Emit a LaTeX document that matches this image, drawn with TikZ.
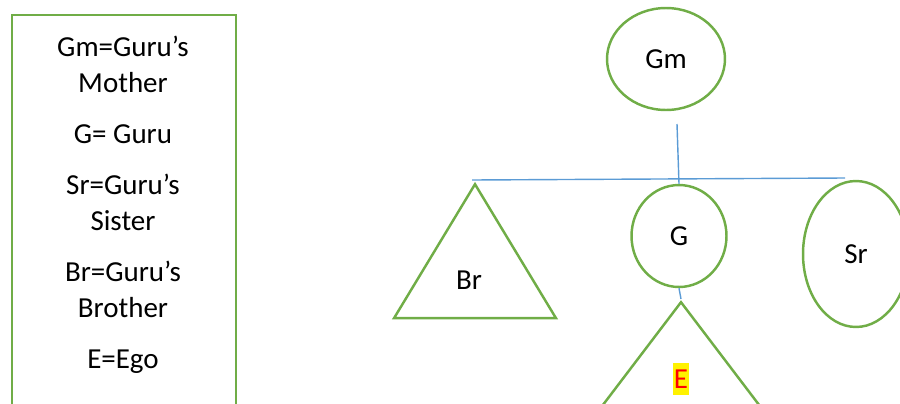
\documentclass[tikz,border=0pt]{standalone}
\usepackage{fontspec}
\setmainfont{Carlito}
\usetikzlibrary{shapes.geometric}

\definecolor{kingreen}{RGB}{112,173,71}
\definecolor{kinblue}{RGB}{91,155,213}

\begin{document}
\begin{tikzpicture}[x=0.02cm,y=-0.02cm,
  every node/.style={font=\fontsize{16.5}{20.5}\selectfont},
  kin/.style={draw=kingreen,line width=1.4pt},
  female/.style={kin,ellipse,inner sep=0pt},
  male/.style={kin,isosceles triangle,isosceles triangle stretches,
    shape border rotate=90,inner sep=0pt},
  tie/.style={draw=kinblue,line width=0.8pt}]

\useasboundingbox (0,0) rectangle (900,403);
\clip (0,0) rectangle (900,403);

\node[kin,anchor=north west,minimum width=4.48cm,minimum height=9cm] (legend) at (11,14) {};
\node[align=center,anchor=north,inner sep=0pt] (key) at (123,36)
  {Gm=Guru’s\\Mother\\[8.5pt]G= Guru\\[8.5pt]Sr=Guru’s\\Sister\\[8.5pt]Br=Guru’s\\Brother\\[8.5pt]E=Ego};

\node[female,minimum width=2.36cm,minimum height=2.04cm] (gm) at (666,59) {Gm};
\node[female,minimum width=1.9cm,minimum height=2.04cm]  (g)  at (679,236) {G};
\node[female,minimum width=2.12cm,minimum height=2.92cm] (sr) at (856,254) {Sr};

\node[male,minimum width=3.24cm,minimum height=2.68cm,anchor=apex] (br) at (475,181) {};
\node (brname) at (469,280) {Br};

\node[male,minimum width=4.56cm,minimum height=3cm,anchor=apex] (e) at (681,299) {};
\node[fill=yellow,text=red,inner sep=0pt,minimum width=0.32cm,minimum height=0.64cm] (ename) at (681,379) {E};

\coordinate (drop) at (677,124);
\coordinate (barleft) at (472,180);
\coordinate (barright) at (845,178);

\draw[tie] (barleft)--(barright);
\draw[tie] (drop)--(g.north);
\draw[tie] (g.south)--(e.apex);

\end{tikzpicture}
\end{document}
